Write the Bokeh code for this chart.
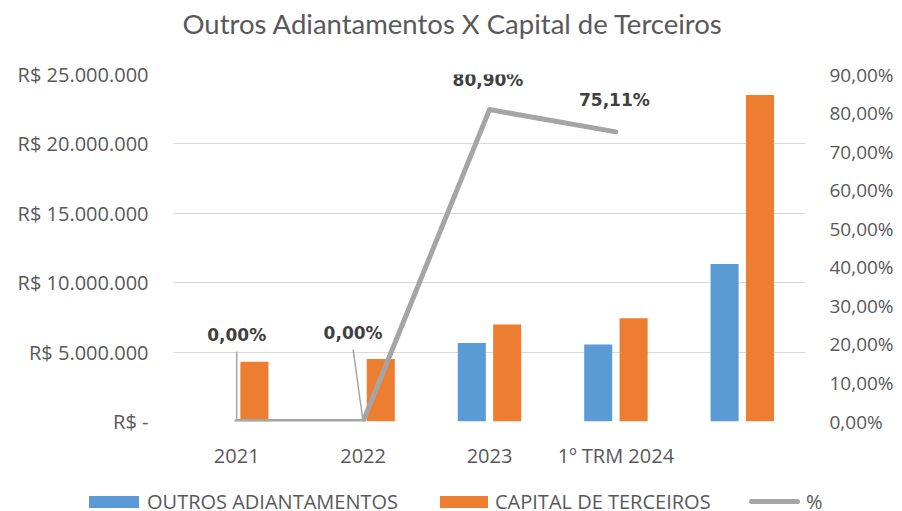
from bokeh.plotting import figure
from bokeh.models import (Range1d, LinearAxis, FixedTicker, ColumnDataSource, Title, Div)
from bokeh.layouts import column
from bokeh.transform import dodge
from bokeh.core.properties import value
from bokeh.embed import file_html
from bokeh.resources import INLINE

# ---------------- data ----------------
categories = ["2021", "2022", "2023", "1º TRM 2024", " "]
outros_adiantamentos = [0, 0, 5_660_000, 5_540_000, 11_340_000]
capital_terceiros = [4_310_000, 4_500_000, 6_990_000, 7_440_000, 23_530_000]
pct_categories = ["2021", "2022", "2023", "1º TRM 2024"]
pct_values = [0.00, 0.00, 80.90, 75.11]
left_ticks = [0, 5_000_000, 10_000_000, 15_000_000, 20_000_000, 25_000_000]
left_tick_labels = ["R$ -", "R$ 5.000.000", "R$ 10.000.000", "R$ 15.000.000",
                    "R$ 20.000.000", "R$ 25.000.000"]
right_ticks = [0, 10, 20, 30, 40, 50, 60, 70, 80, 90]
title_text = "Outros Adiantamentos X Capital de Terceiros"
legend_labels = ["OUTROS ADIANTAMENTOS", "CAPITAL DE TERCEIROS", "%"]

# ---------------- styling ----------------
BLUE = "#5B9BD5"
ORANGE = "#ED7D31"
GREY_LINE = "#A5A5A5"
TEXT = "#595959"
LABEL_TXT = "#404040"
FONT = "Open Sans"

FRAME_W, FRAME_H = 632, 347
PCT_MAX = 90
cat_px = FRAME_W / len(categories)

p = figure(x_range=categories, y_range=Range1d(0, 25_000_000),
           frame_width=FRAME_W, frame_height=FRAME_H,
           min_border_left=173, min_border_right=89,
           min_border_top=74, min_border_bottom=40,
           output_backend="svg", toolbar_location=None, tools="")
p.outline_line_color = None
p.background_fill_color = "white"
p.border_fill_color = "white"
p.extra_y_ranges = {"pct": Range1d(0, PCT_MAX)}

# visible title (outermost slot)
p.title.text = title_text
p.title.align = "left"
p.title.offset = 9
p.title.standoff = 0
p.title.vertical_align = "middle"
p.title.text_font = "Lato"
p.title.text_font_size = "27.5px"
p.title.text_font_style = "normal"
p.title.text_color = TEXT
# blank spacer between the title and the plot area
p.add_layout(Title(text=" ", text_font_size="10px", standoff=21), "above")

# left axis
ya = p.yaxis[0]
ya.ticker = FixedTicker(ticks=left_ticks)
ya.major_label_overrides = {t: l for t, l in zip(left_ticks, left_tick_labels)}
ya.axis_line_color = None
ya.major_tick_line_color = None
ya.minor_tick_line_color = None
ya.major_label_text_font = FONT
ya.major_label_text_font_size = "20px"
ya.major_label_text_color = TEXT
ya.major_label_standoff = 19

# right axis
ra = LinearAxis(y_range_name="pct", ticker=FixedTicker(ticks=right_ticks))
ra.major_label_overrides = {t: f"{t:.2f}".replace(".", ",") + "%" for t in right_ticks}
ra.axis_line_color = None
ra.major_tick_line_color = None
ra.minor_tick_line_color = None
ra.major_label_text_font = FONT
ra.major_label_text_font_size = "19px"
ra.major_label_text_color = TEXT
ra.major_label_standoff = 18
p.add_layout(ra, "right")

# x axis
xa = p.xaxis[0]
xa.axis_line_color = None
xa.major_tick_line_color = None
xa.minor_tick_line_color = None
xa.major_label_text_font = FONT
xa.major_label_text_font_size = "20px"
xa.major_label_text_color = TEXT
xa.major_label_standoff = 14

p.xgrid.grid_line_color = None
p.ygrid.ticker = FixedTicker(ticks=left_ticks)
p.ygrid.grid_line_color = "#D9D9D9"
p.ygrid.grid_line_width = 1

src = ColumnDataSource(dict(cat=categories, outros=outros_adiantamentos,
                            capital=capital_terceiros))
p.vbar(x=dodge("cat", -0.14, range=p.x_range), top="outros", width=0.222,
       source=src, fill_color=BLUE, line_color=None)
p.vbar(x=dodge("cat", 0.14, range=p.x_range), top="capital", width=0.222,
       source=src, fill_color=ORANGE, line_color=None)

p.line(x=pct_categories, y=pct_values, y_range_name="pct",
       line_color=GREY_LINE, line_width=5, line_join="round", line_cap="round")

# data labels (pixel offsets of Excel label placement)
lbl_dx = [0, -10, -1.5, -1.5]
lbl_dy = [-87, -89, -29.5, -31.5]
lbl_txt = [f"{v:.2f}".replace(".", ",") + "%" for v in pct_values]
p.text(x=pct_categories, y=pct_values, text=lbl_txt, x_offset=lbl_dx, y_offset=lbl_dy,
       y_range_name="pct", text_font=value("DejaVu Sans"), text_font_style="bold",
       text_font_size="17px", text_color=LABEL_TXT, text_align="center",
       text_baseline="middle")

# leader lines from the two moved "0,00%" labels down to their points
px_to_pct = PCT_MAX / FRAME_H
for i in (0, 1):
    lead = ColumnDataSource(dict(cat=[pct_categories[i]], y0=[pct_values[i]],
                                 y1=[pct_values[i] + (-lbl_dy[i] - 17) * px_to_pct]))
    p.segment(x0=dodge("cat", 0, range=p.x_range), y0="y0",
              x1=dodge("cat", lbl_dx[i] / cat_px, range=p.x_range), y1="y1",
              source=lead, y_range_name="pct", line_color="#A6A6A6", line_width=1.5)

# ---------------- legend strip under the chart ----------------
key_left = [89, 440, 749]       # left edge of each key swatch (px)
text_left = [147, 495, 806]     # left edge of each legend label (px)
keys = [
    f'<span style="position:absolute;left:{key_left[0]}px;top:25px;width:50px;height:12px;background:{BLUE}"></span>',
    f'<span style="position:absolute;left:{key_left[1]}px;top:25px;width:48px;height:12px;background:{ORANGE}"></span>',
    f'<span style="position:absolute;left:{key_left[2]}px;top:28px;width:51px;height:5px;border-radius:3px;background:{GREY_LINE}"></span>',
]
labels_html = [
    f'<span style="position:absolute;left:{x}px;top:22px;line-height:18px;white-space:nowrap">{t}</span>'
    for x, t in zip(text_left, legend_labels)
]
legend_html = (f'<div style="position:relative;width:894px;height:41px;font-family:\'{FONT}\';'
               f'font-size:20px;color:{TEXT};background:white">'
               + "".join(keys) + "".join(labels_html) + "</div>")
legend_div = Div(text=legend_html, width=894, height=41, margin=(0, 0, 0, 0))

page = column(p, legend_div, spacing=0)
open("out.html", "w").write(file_html(page, INLINE))
